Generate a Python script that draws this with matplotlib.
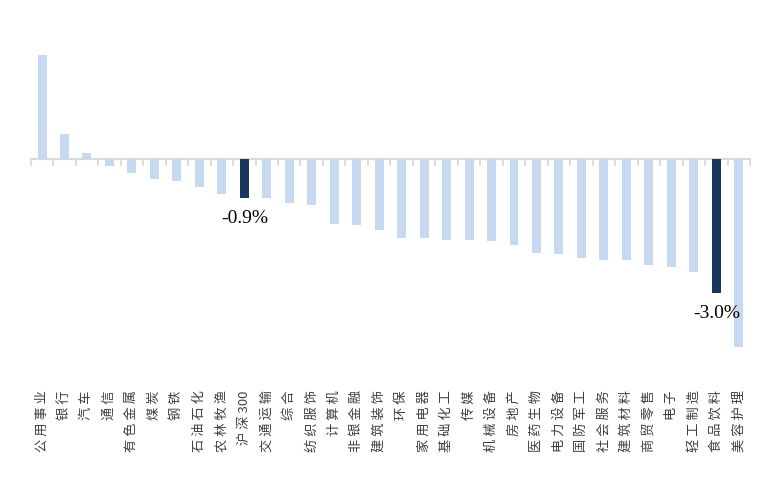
import numpy as np
import matplotlib
matplotlib.use('Agg')
import matplotlib.pyplot as plt

# #### Data: weekly change per industry (%)
industries = ['公用事业', '银行', '汽车', '通信', '有色金属', '煤炭', '钢铁', '石油石化',
              '农林牧渔', '沪深300', '交通运输', '综合', '纺织服饰', '计算机', '非银金融',
              '建筑装饰', '环保', '家用电器', '基础化工', '传媒', '机械设备', '房地产',
              '医药生物', '电力设备', '国防军工', '社会服务', '建筑材料', '商贸零售', '电子',
              '轻工制造', '食品饮料', '美容护理']
changes = [2.32, 0.55, 0.12, -0.16, -0.32, -0.45, -0.50, -0.63,
           -0.79, -0.88, -0.88, -0.99, -1.03, -1.46, -1.48,
           -1.59, -1.77, -1.78, -1.82, -1.82, -1.84, -1.93,
           -2.11, -2.13, -2.22, -2.26, -2.27, -2.38, -2.42,
           -2.55, -3.00, -4.21]
highlight = ['沪深300', '食品饮料']
highlight_labels = ['-0.9%', '-3.0%']

# #### Plot settings
light_col = '#C6D9F1'
dark_col = '#17375E'
axis_col = '#D9D9D9'

plt.rcParams['font.family'] = ['Noto Sans CJK SC', 'DejaVu Sans']

x = np.arange(len(industries))
colors = [dark_col if name in highlight else light_col for name in industries]

fig = plt.figure(figsize=(7.7, 4.9), dpi=100)
ax = fig.add_axes([0.040, 0.2204, 0.934, 0.6933])

ax.bar(x, changes, width=0.40, color=colors, zorder=2)
ax.set_xlim(-0.5, len(industries) - 0.5)
ax.set_ylim(-5.0, 2.6)

# zero axis with tick marks between categories
for side in ['top', 'right', 'left']:
    ax.spines[side].set_visible(False)
ax.spines['bottom'].set_position(('data', 0))
ax.spines['bottom'].set_color(axis_col)
ax.spines['bottom'].set_linewidth(1.5)
ax.spines['bottom'].set_zorder(1)
ax.set_yticks([])
ax.set_xticks([])
ax.set_xticks(np.arange(len(industries) + 1) - 0.5, minor=True)
ax.tick_params(axis='x', which='minor', direction='out', length=5, width=1.2,
               color=axis_col, labelbottom=False)

# category labels along the bottom, rotated
for xi, name in zip(x, industries):
    if name.isascii():
        txt = name
    else:
        txt = ''
        for i, ch in enumerate(name):
            if i > 0 and not (ch.isdigit() and name[i - 1].isdigit()):
                txt += ' '
            txt += ch
    ax.text(xi, -0.024, txt, transform=ax.get_xaxis_transform(), rotation=90,
            ha='center', va='top', fontsize=9.5, color='#404040')

# value labels under the highlighted bars
for name, lbl in zip(highlight, highlight_labels):
    i = industries.index(name)
    ax.annotate(lbl, xy=(x[i], changes[i]), xytext=(0, -15), textcoords='offset points',
                ha='center', va='center', fontsize=14, family='Liberation Serif', color='black')

fig.savefig('out.png', dpi=100, facecolor='w')
